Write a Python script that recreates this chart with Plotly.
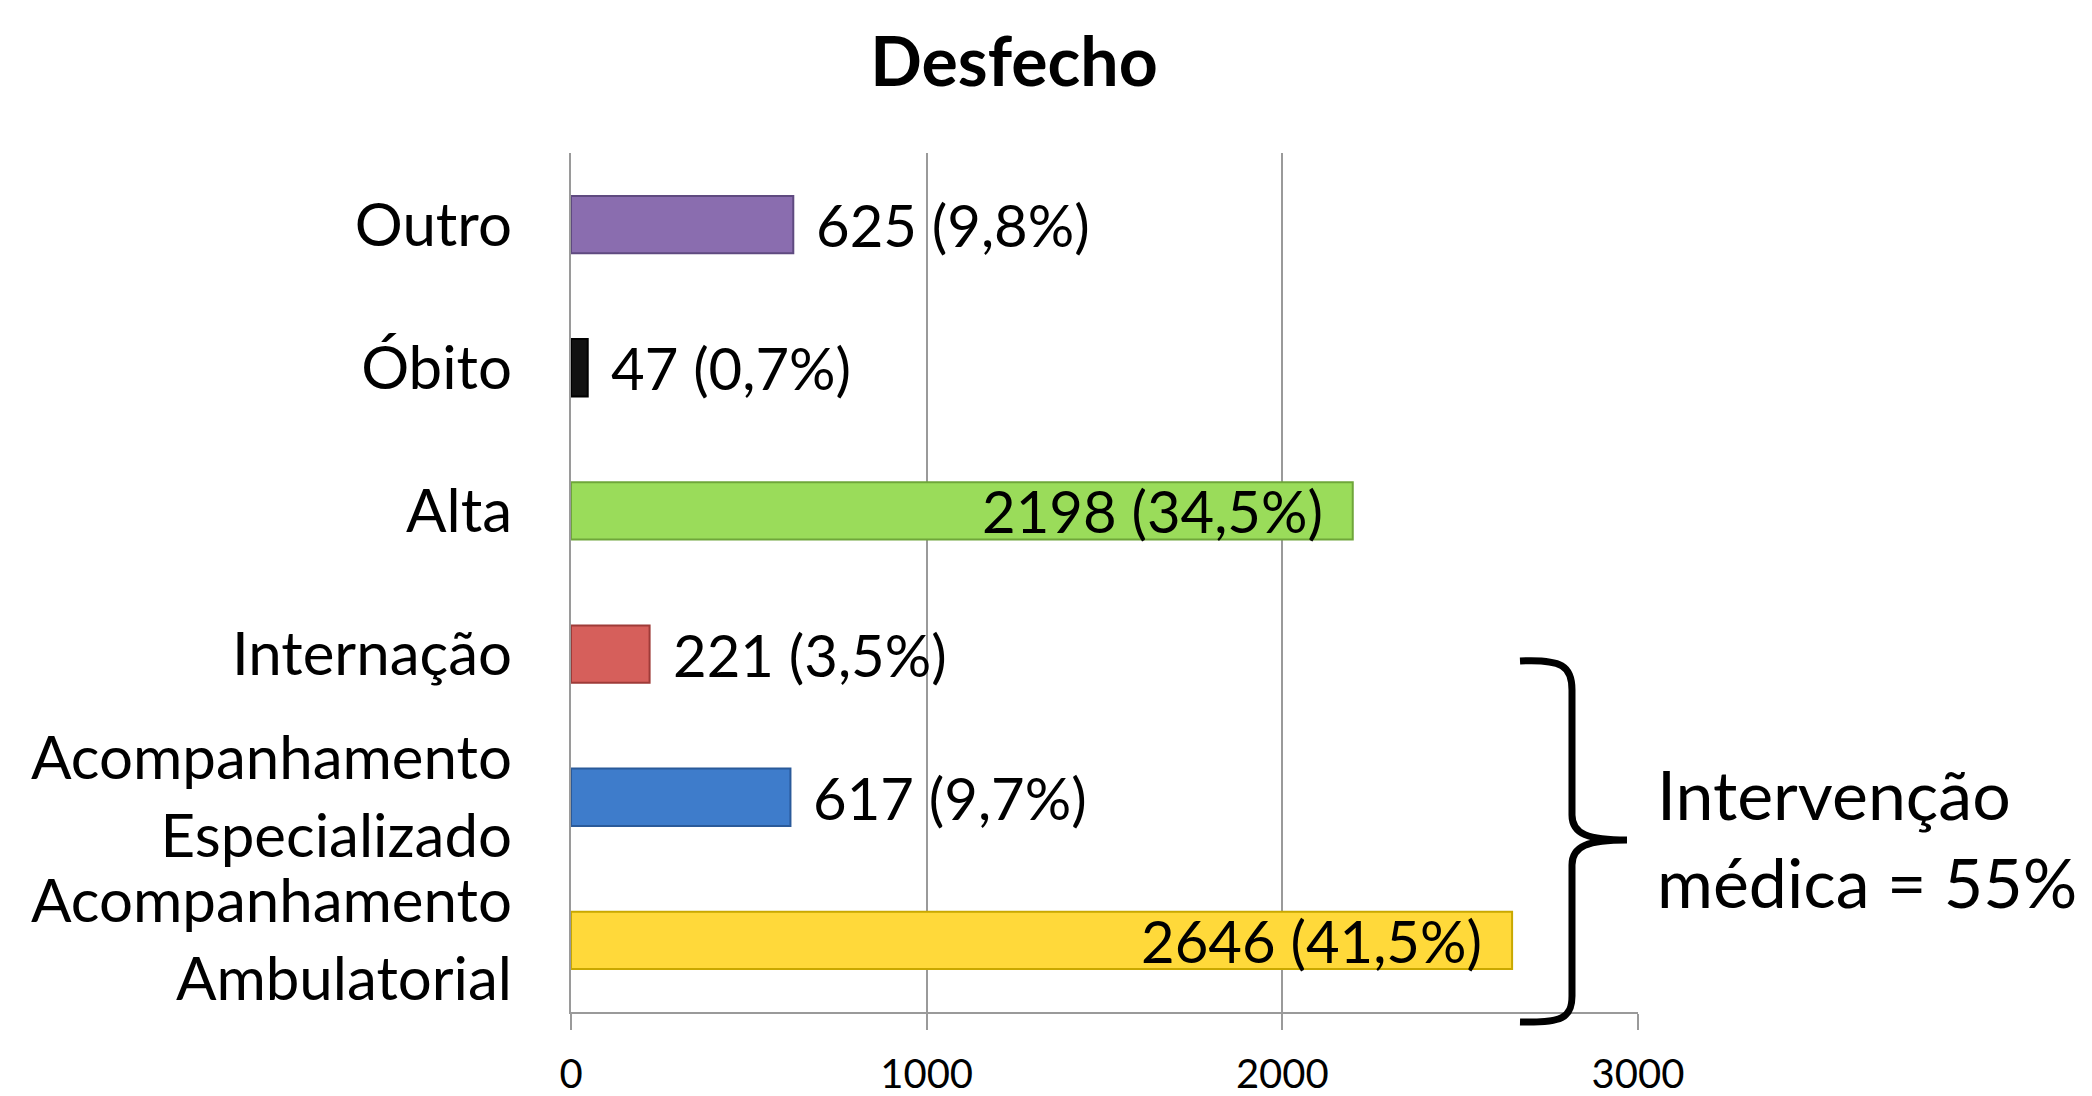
import plotly.graph_objects as go

# ---- data (bottom to top, as plotly draws categories) ----
categories = ["Acompanhamento<br>Ambulatorial", "Acompanhamento<br>Especializado",
              "Internação", "Alta", "Óbito", "Outro"]
values = [2646, 617, 221, 2198, 47, 625]
percents = ["41,5%", "9,7%", "3,5%", "34,5%", "0,7%", "9,8%"]
label_inside = [True, False, False, True, False, False]
bar_colors = ["#FFD93A", "#3E7CCB", "#D65F5B", "#9ADC5A", "#111111", "#8A6DAF"]
edge_colors = ["#C9A800", "#2A5A9A", "#9E3B38", "#6FA63A", "#000000", "#5F4A80"]
x_ticks = [0, 1000, 2000, 3000]

title_text = "Desfecho"
note_text = "Intervenção<br>médica = 55%"

FONT = "Lato"
W, H = 2092, 1096
L, R, T, B = 571, 454, 153, 84

fig = go.Figure()
fig.add_trace(go.Bar(
    y=categories, x=values, orientation="h",
    marker=dict(color=bar_colors, line=dict(color=edge_colors, width=2)),
    width=0.4, hoverinfo="skip", showlegend=False,
))

annotations = []
for cat, v, p, inside in zip(categories, values, percents, label_inside):
    annotations.append(dict(
        x=v, y=cat, xref="x", yref="y", text=f"{v} ({p})", showarrow=False,
        xanchor="right" if inside else "left", xshift=-28 if inside else 21,
        font=dict(family=FONT, size=58, color="black"),
    ))

# paper-coordinate helpers for pixel layout of decorations
pw, ph = W - L - R, H - T - B
def px(x):
    return (x - L) / pw
def py(y):
    return (H - B - y) / ph

annotations.append(dict(
    x=px(1655), y=py(837), xref="paper", yref="paper", text=note_text,
    showarrow=False, xanchor="left", yanchor="middle", align="left",
    font=dict(family=FONT, size=68, color="black"),
))

brace_pts = [
    ("M", [(1520, 661)]),
    ("C", [(1562, 659), (1572, 666), (1572, 690)]),
    ("L", [(1572, 815)]),
    ("C", [(1572, 834), (1588, 840), (1627, 840)]),
    ("C", [(1588, 840), (1572, 846), (1572, 865)]),
    ("L", [(1572, 996)]),
    ("C", [(1572, 1018), (1562, 1023), (1520, 1022)]),
]
path = " ".join(cmd + " " + " ".join(f"{px(a):.5f},{py(b):.5f}" for a, b in pts)
                for cmd, pts in brace_pts)

fig.update_layout(
    width=W, height=H,
    margin=dict(l=L, r=R, t=T, b=B, autoexpand=False),
    plot_bgcolor="white", paper_bgcolor="white",
    title=dict(text=f"<b>{title_text}</b>", xref="container", x=1014 / W,
               xanchor="center", yref="container", y=1 - 62 / H, yanchor="middle",
               font=dict(family=FONT, size=68, color="black")),
    xaxis=dict(range=[0, 3000], tickvals=x_ticks, showgrid=True, automargin=False,
               gridcolor="#9a9a9a", gridwidth=1.5, zeroline=False,
               showline=True, linecolor="#9a9a9a", linewidth=2,
               ticks="outside", ticklen=16, tickcolor="#9a9a9a", tickwidth=1.5,
               tickfont=dict(family=FONT, size=40, color="black"),
               ticklabelstandoff=10),
    yaxis=dict(showline=True, linecolor="#9a9a9a", linewidth=2, automargin=False,
               ticks="", showgrid=False, ticklabelstandoff=45,
               tickfont=dict(family=FONT, size=60, color="black")),
    annotations=annotations,
    shapes=[dict(type="path", path=path, xref="paper", yref="paper",
                 line=dict(color="black", width=7))],
    font=dict(family=FONT),
)

fig.write_html("out.html")
